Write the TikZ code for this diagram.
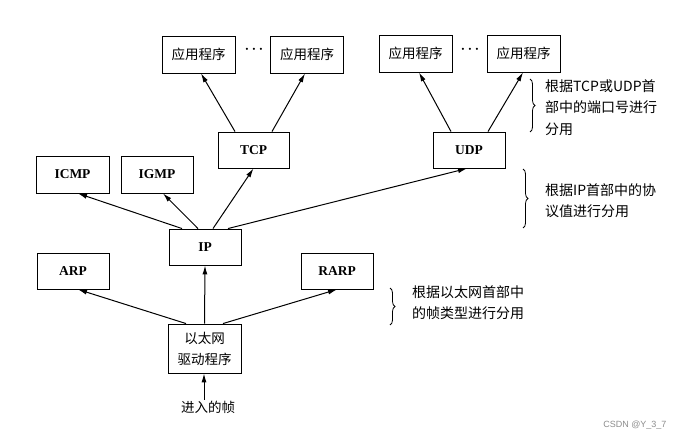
\documentclass[tikz,border=0pt]{standalone}
\usepackage{fontspec}
\setmainfont{Liberation Serif}
\newfontfamily\cjk{Noto Sans CJK SC}
\newfontfamily\wmfont{Liberation Sans}
\usetikzlibrary{arrows.meta,decorations.pathreplacing}
\begin{document}
\begin{tikzpicture}[%
            x=1pt, y=-1pt,
            layerbox/.style={draw, line width=0.9pt, minimum width=73pt, minimum height=37pt,
                inner sep=1pt, font=\fontsize{13.5}{15}\selectfont\bfseries},
            appbox/.style={layerbox, font=\cjk\fontsize{13.5}{15}\selectfont},
            note/.style={anchor=north west, align=left, inner sep=0pt,
                font=\cjk\fontsize{14}{21.5}\selectfont},
            arr/.style={-{Latex[length=9pt,width=5pt]}, line width=1pt},
            notebrace/.style={decorate, decoration={brace, amplitude=5pt}, line width=0.8pt}
        ]
        \useasboundingbox (0,0) rectangle (692,441);

        % applications
        \node [appbox] (app1) at (198.5,54.5) {应用程序};
        \node [appbox] (app2) at (307,54.5)   {应用程序};
        \node [appbox] (app3) at (415.5,53.5) {应用程序};
        \node [appbox] (app4) at (523.5,53.5) {应用程序};
        \node [font=\fontsize{20}{20}\selectfont, inner sep=0pt] (dots1) at (254,50) {$\cdot\!\cdot\!\cdot$};
        \node [font=\fontsize{20}{20}\selectfont, inner sep=0pt] (dots2) at (470,50) {$\cdot\!\cdot\!\cdot$};

        % transport, network, link
        \node [layerbox, minimum width=71pt, minimum height=36pt] (tcp) at (253.5,150) {TCP};
        \node [layerbox, minimum width=72pt, minimum height=36pt] (udp) at (469,150) {UDP};
        \node [layerbox] (icmp) at (72.5,174.5) {ICMP};
        \node [layerbox, minimum width=72pt] (igmp) at (157,174.5) {IGMP};
        \node [layerbox, minimum width=72pt, minimum height=36pt] (ip) at (205,247) {IP};
        \node [layerbox, minimum width=72pt, minimum height=36pt] (arp) at (73,271) {ARP};
        \node [layerbox, minimum width=72pt, minimum height=36pt] (rarp) at (337,271) {RARP};
        \node [appbox, minimum height=49pt, align=center,
               font=\cjk\fontsize{13.5}{21}\selectfont] (eth) at (204.5,348.5) {以太网\\驱动程序};
        \node [font=\cjk\fontsize{13.5}{15}\selectfont, inner sep=1pt] (frame) at (208,407) {进入的帧};

        % demultiplexing arrows
        \draw [arr] ([xshift=-18.5pt]tcp.north) -- ([xshift=2.5pt]app1.south);
        \draw [arr] ([xshift=18.5pt]tcp.north)  -- ([xshift=-2pt]app2.south);
        \draw [arr] ([xshift=-18pt]udp.north)   -- ([xshift=3.5pt]app3.south);
        \draw [arr] ([xshift=19pt]udp.north)    -- ([xshift=-0.5pt]app4.south);

        \draw [arr] ([xshift=-23pt]ip.north) -- ([xshift=5.5pt]icmp.south);
        \draw [arr] ([xshift=-7pt]ip.north)  -- ([xshift=6pt]igmp.south);
        \draw [arr] ([xshift=8pt]ip.north)   -- (tcp.south);
        \draw [arr] ([xshift=23pt]ip.north)  -- ([xshift=-2pt]udp.south);

        \draw [arr] ([xshift=-18.5pt]eth.north) -- ([xshift=5pt]arp.south);
        \draw [arr] (eth.north) -- (ip.south);
        \draw [arr] ([xshift=18.5pt]eth.north)  -- (rarp.south);

        \draw [arr] ([xshift=-4pt]frame.north) -- ([xshift=-0.5pt]eth.south);

        % braces and notes
        \draw [notebrace] (530,79) -- (530,132);
        \node [note] (note1) at (545,79) {根据TCP或UDP首\\部中的端口号进行\\分用};
        \draw [notebrace] (523,169) -- (523,228);
        \node [note] (note2) at (545,183) {根据IP首部中的协\\议值进行分用};
        \draw [notebrace] (390,288) -- (390,325);
        \node [note] (note3) at (412,285) {根据以太网首部中\\的帧类型进行分用};

        \node [font=\wmfont\fontsize{9}{11}\selectfont, text=black!45, anchor=east] (mark) at (670,425) {CSDN @Y\_3\_7};
\end{tikzpicture}
\end{document}
